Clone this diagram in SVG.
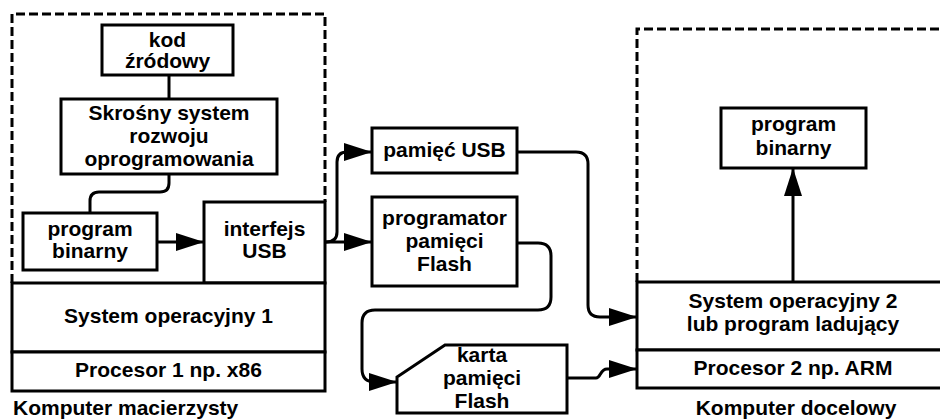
<svg xmlns="http://www.w3.org/2000/svg" width="940" height="420" viewBox="0 0 940 420">
  <style>
    .box { fill: #ffffff; stroke: #000000; stroke-width: 3; }
    .frame { fill: none; stroke: #000000; stroke-width: 3; stroke-dasharray: 9 4; }
    .wire { fill: none; stroke: #000000; stroke-width: 3; stroke-linejoin: round; }
    .arrow { marker-end: url(#head); }
    text { font-family: "Liberation Sans", Arial, sans-serif; font-weight: bold; font-size: 21px; fill: #000000; text-anchor: middle; }
    .caption { text-anchor: start; }
    .caption-mid { text-anchor: middle; }
  </style>
  <defs>
    <marker id="head" markerUnits="userSpaceOnUse" markerWidth="28" markerHeight="18" refX="28" refY="9" orient="auto">
      <path d="M0,0 L28,9 L0,18 Z" fill="#000000"/>
    </marker>
  </defs>
  <rect width="940" height="420" fill="#ffffff"/>

  <!-- host computer frame -->
  <path id="host-frame" class="frame" d="M12,283 V14 H325 V202"/>
  <!-- target computer frame -->
  <path id="target-frame" class="frame" d="M637,282 V29 H945"/>

  <!-- connectors -->
  <g id="connectors">
    <path class="wire" d="M169,75 V99"/>
    <path class="wire" d="M169,174 V183 Q169,192 160,192 H99 Q90,192 90,201 V213"/>
    <path class="wire arrow" d="M157,242 H204"/>
    <path class="wire arrow" d="M325,242 H372"/>
    <path class="wire arrow" d="M326,242 Q337,242 337,232 V162 Q337,152 347,152 H372"/>
    <path class="wire arrow" d="M517,152 H576 Q588,152 588,164 V305 Q588,317 600,317 H637"/>
    <path class="wire arrow" d="M517,243 H538 Q551,243 551,256 V297 Q551,310 538,310 H375 Q362,310 362,323 V369 Q362,382 375,382 H397"/>
    <path class="wire arrow" d="M567,378 H596 C601,378 600,369 607,369 H637"/>
    <path class="wire arrow" d="M793,282 V168"/>
  </g>

  <g id="source-code">
    <rect class="box" x="102" y="25" width="131" height="50"/>
    <text x="167.5" y="47">kod</text>
    <text x="167.5" y="68">źródowy</text>
  </g>

  <g id="cross-dev-system">
    <rect class="box" x="61" y="99" width="216" height="75"/>
    <text x="169" y="120">Skrośny system</text>
    <text x="169" y="143">rozwoju</text>
    <text x="169" y="166">oprogramowania</text>
  </g>

  <g id="host-binary">
    <rect class="box" x="23" y="213" width="134" height="57"/>
    <text x="90" y="236">program</text>
    <text x="90" y="258">binarny</text>
  </g>

  <g id="usb-interface">
    <rect class="box" x="204" y="202" width="121" height="81"/>
    <text x="264.5" y="236">interfejs</text>
    <text x="264.5" y="258">USB</text>
  </g>

  <g id="host-os">
    <rect class="box" x="12" y="283" width="313" height="69"/>
    <text x="168.5" y="323">System operacyjny 1</text>
  </g>

  <g id="host-cpu">
    <rect class="box" x="12" y="352" width="313" height="39"/>
    <text x="168.5" y="377">Procesor 1 np. x86</text>
  </g>

  <g id="usb-memory">
    <rect class="box" x="372" y="128" width="145" height="45"/>
    <text x="444.5" y="157">pamięć USB</text>
  </g>

  <g id="flash-programmer">
    <rect class="box" x="372" y="197" width="145" height="89"/>
    <text x="444.5" y="225">programator</text>
    <text x="444.5" y="248">pamięci</text>
    <text x="444.5" y="271">Flash</text>
  </g>

  <g id="flash-card">
    <polygon class="box" points="397,413 397,377 445,345 567,345 567,413"/>
    <text x="482" y="362">karta</text>
    <text x="482" y="385">pamięci</text>
    <text x="482" y="408">Flash</text>
  </g>

  <g id="target-binary">
    <rect class="box" x="721" y="108" width="145" height="60"/>
    <text x="793.5" y="131">program</text>
    <text x="793.5" y="155">binarny</text>
  </g>

  <g id="target-os">
    <rect class="box" x="637" y="282" width="320" height="68"/>
    <text x="793" y="308">System operacyjny 2</text>
    <text x="793" y="331">lub program ladujący</text>
  </g>

  <g id="target-cpu">
    <rect class="box" x="637" y="350" width="320" height="38"/>
    <text x="793" y="375">Procesor 2 np. ARM</text>
  </g>

  <text class="caption" x="13" y="415">Komputer macierzysty</text>
  <text class="caption-mid" x="796" y="415">Komputer docelowy</text>
</svg>
